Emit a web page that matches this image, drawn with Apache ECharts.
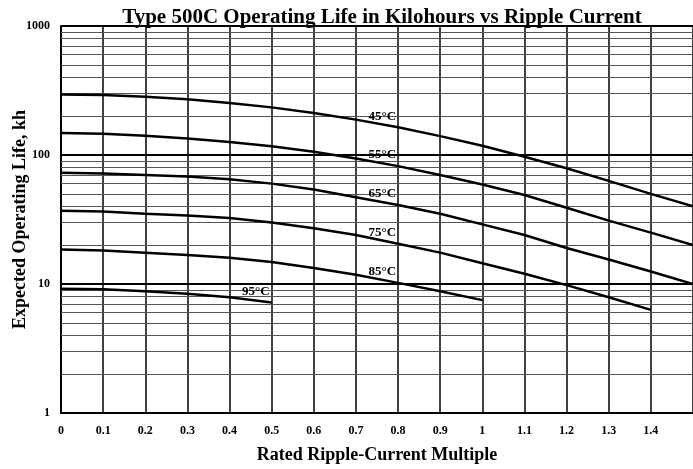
<!DOCTYPE html>
<html><head><meta charset="utf-8">
<script src="https://cdn.jsdelivr.net/npm/echarts@6/dist/echarts.min.js"></script>
<style>html,body{margin:0;padding:0;background:#fff}#c{width:693px;height:469px}</style>
</head><body><div id="c"></div>
<script>
const xValues = [0, 0.1, 0.2, 0.3, 0.4, 0.5, 0.6, 0.7, 0.8, 0.9, 1.0, 1.1, 1.2, 1.3, 1.4, 1.5];
const seriesNames = ['45°C', '55°C', '65°C', '75°C', '85°C', '95°C'];
const life45 = [295, 292, 283, 270, 253, 234, 212, 188, 164, 140, 118, 97, 79, 63, 50, 40];
const life55 = [148, 146, 141, 134, 126, 117, 106, 94, 82, 70, 59, 49, 39, 31, 25, 20];
const life65 = [73, 72, 70, 68, 65, 60, 54, 47, 41, 35, 29, 24, 19, 15.5, 12.5, 10];
const life75 = [37, 36.5, 35, 34, 32.5, 30, 27, 24, 20.5, 17.5, 14.5, 12, 9.8, 7.9, 6.3];
const life85 = [18.5, 18.2, 17.5, 16.8, 16, 14.8, 13.3, 11.8, 10.2, 8.8, 7.5];
const life95 = [9.2, 9.1, 8.8, 8.4, 7.9, 7.2];
const labelIndex = [8, 8, 8, 8, 8, 5];
const minorGrid = [2,3,4,5,6,7,8,9,20,30,40,50,60,70,80,90,200,300,400,500,600,700,800,900];

const font = 'Liberation Serif, Times New Roman, serif';
const allLife = [life45, life55, life65, life75, life85, life95];

const curveSeries = allLife.map((arr, s) => ({
  type: 'line',
  name: seriesNames[s],
  showSymbol: true,
  symbol: 'circle',
  symbolSize: 0,
  z: 5,
  lineStyle: { color: '#000', width: 2.5 },
  itemStyle: { color: '#000' },
  label: { show: false },
  data: arr.map((v, i) => i === labelIndex[s]
    ? { value: [xValues[i], v], label: { show: true, formatter: seriesNames[s], position: 'left', distance: 2, offset: [0, -11], fontFamily: font, fontWeight: 'bold', fontSize: 13, color: '#000' } }
    : [xValues[i], v])
}));

const gridSeries = {
  type: 'line', data: [], z: 1, silent: true,
  markLine: {
    silent: true, symbol: ['none', 'none'], animation: false,
    label: { show: false },
    lineStyle: { color: '#555', width: 1, type: 'solid' },
    data: minorGrid.map(v => ({ yAxis: v }))
  }
};

const chart = echarts.init(document.getElementById('c'));
chart.setOption({
  animation: false,
  backgroundColor: '#fff',
  title: {
    text: 'Type 500C Operating Life in Kilohours vs Ripple Current',
    left: 377, top: 2, textAlign: 'center',
    textStyle: { fontFamily: font, fontWeight: 'bold', fontSize: 21, color: '#000' }
  },
  grid: { left: 61, right: 0, top: 26, bottom: 56, containLabel: false, outerBoundsMode: 'none' },
  xAxis: {
    type: 'value', min: 0, max: 1.5, interval: 0.1,
    name: 'Rated Ripple-Current Multiple', nameLocation: 'middle', nameGap: 33, nameMoveOverlap: false,
    nameTextStyle: { fontFamily: font, fontWeight: 'bold', fontSize: 18, color: '#000' },
    axisLine: { lineStyle: { color: '#000', width: 2 } },
    axisTick: { show: false },
    axisLabel: { showMaxLabel: false, margin: 12, fontFamily: font, fontWeight: 'bold', fontSize: 12, color: '#000' },
    splitLine: { show: true, lineStyle: { color: '#111', width: 1.6 } }
  },
  yAxis: {
    type: 'log', logBase: 10, min: 1, max: 1000,
    name: 'Expected Operating Life, kh', nameLocation: 'middle', nameGap: 32, nameMoveOverlap: false,
    nameTextStyle: { fontFamily: font, fontWeight: 'bold', fontSize: 18, color: '#000' },
    axisLine: { show: true, lineStyle: { color: '#000', width: 2 } },
    axisTick: { show: false },
    axisLabel: { margin: 11, formatter: v => String(v), fontFamily: font, fontWeight: 'bold', fontSize: 12, color: '#000' },
    splitLine: { show: true, lineStyle: { color: '#000', width: 2 } }
  },
  series: [gridSeries].concat(curveSeries)
});
</script></body></html>
